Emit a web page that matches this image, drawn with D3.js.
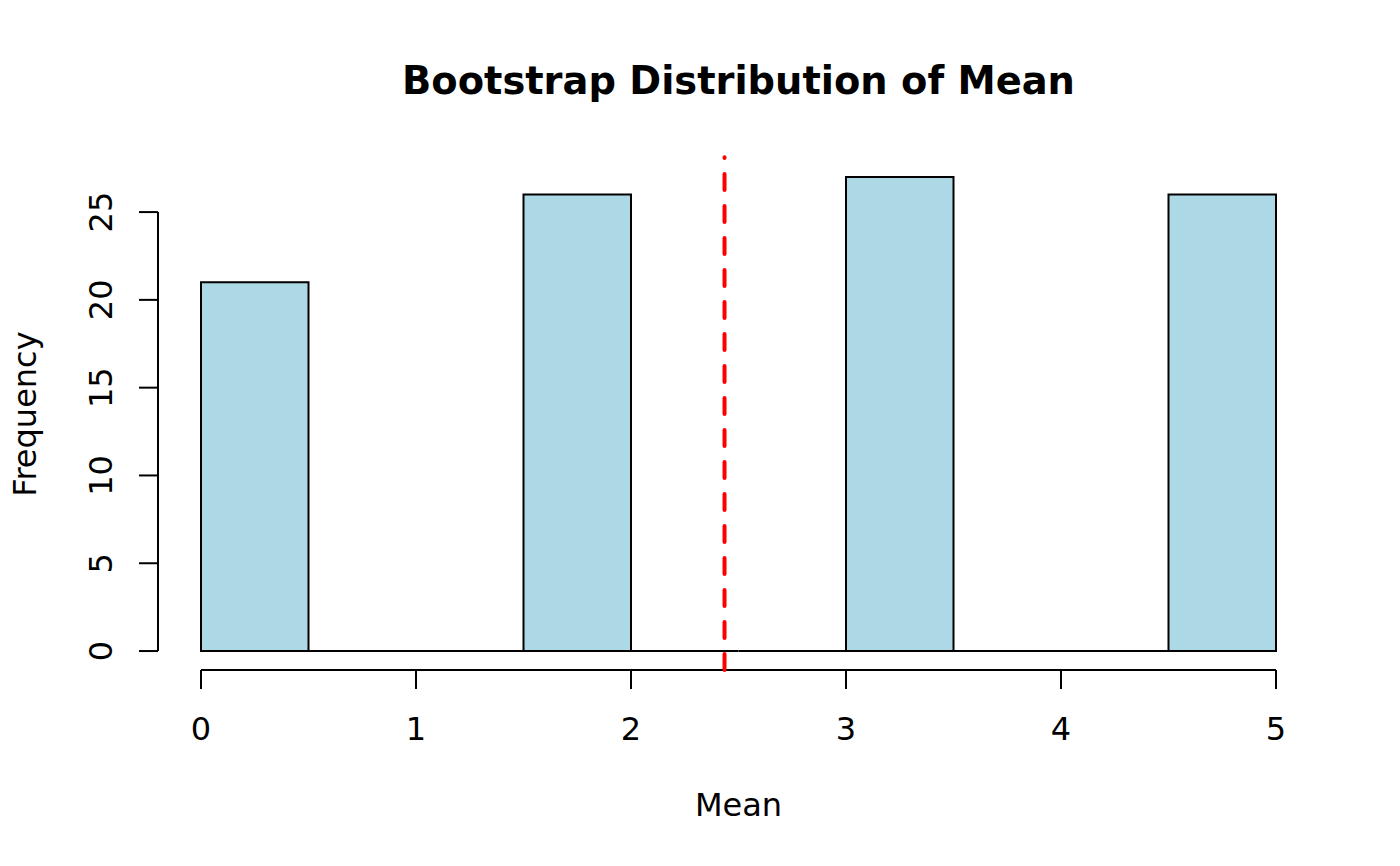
<!DOCTYPE html>
<html><head><meta charset="utf-8">
<script src="https://cdn.jsdelivr.net/npm/d3@7"></script>
<style>body{margin:0;background:#fff}</style>
</head><body>
<svg id="c" width="1400" height="866"></svg>
<script>
const binStarts = [0,0.5,1,1.5,2,2.5,3,3.5,4,4.5];
const binWidth = 0.5;
const counts = [21,0,0,26,0,0,27,0,0,26];
const meanValue = 2.435;
const xTicks = [0,1,2,3,4,5];
const yTicks = [0,5,10,15,20,25];
const title = "Bootstrap Distribution of Mean";
const xLabel = "Mean";
const yLabel = "Frequency";

const svg = d3.select("#c");
const font = "DejaVu Sans, Liberation Sans, sans-serif";
// plot region with R-like 4% padding
const x = d3.scaleLinear().domain([-0.2, 5.2]).range([201-0.2*215, 1276+0.2*215]);
const y = d3.scaleLinear().domain([-1.08, 28.08]).range([670, 158]);

svg.append("g").selectAll("path").data(binStarts).join("path")
  .attr("d", (d,i) => {
    const p = d3.path();
    const x0 = x(d), x1 = x(d+binWidth), y0 = y(0), y1 = y(counts[i]);
    p.moveTo(x0, y0); p.lineTo(x1, y0); p.lineTo(x1, y1); p.lineTo(x0, y1); p.closePath();
    return p.toString();
  })
  .attr("fill", "#ADD8E6").attr("stroke", "#000").attr("stroke-width", 2);

// x axis
const gx = svg.append("g").attr("transform", `translate(0,${y(-1.08)})`);
gx.append("line").attr("x1", x(0)).attr("x2", x(5)).attr("stroke","#000").attr("stroke-width",2);
gx.selectAll("line.t").data(xTicks).join("line").attr("class","t")
  .attr("x1", d=>x(d)).attr("x2", d=>x(d)).attr("y1",0).attr("y2",19).attr("stroke","#000").attr("stroke-width",2);
gx.selectAll("text").data(xTicks).join("text")
  .attr("x", d=>x(d)).attr("y", 70).attr("text-anchor","middle")
  .attr("font-family", font).attr("font-size", 32).text(d=>d);

// y axis
const ax = x(-0.2);
const gy = svg.append("g").attr("transform", `translate(${ax},0)`);
gy.append("line").attr("y1", y(0)).attr("y2", y(25)).attr("stroke","#000").attr("stroke-width",2);
gy.selectAll("line.t").data(yTicks).join("line").attr("class","t")
  .attr("y1", d=>y(d)).attr("y2", d=>y(d)).attr("x1",0).attr("x2",-19).attr("stroke","#000").attr("stroke-width",2);
gy.selectAll("text").data(yTicks).join("text")
  .attr("transform", d=>`translate(-46,${y(d)}) rotate(-90)`)
  .attr("text-anchor","middle").attr("font-family", font).attr("font-size", 32).text(d=>d);

// mean line
svg.append("line").attr("x1", x(meanValue)).attr("x2", x(meanValue))
  .attr("y1", y(-1.08)).attr("y2", y(28.08) - 0.8)
  .attr("stroke","#FF0000").attr("stroke-width",4).attr("stroke-dasharray","16,16").attr("stroke-linecap","round");

// titles
svg.append("text").attr("x", 738.5).attr("y", 94).attr("text-anchor","middle")
  .attr("font-family", font).attr("font-weight","bold").attr("font-size", 38.4).text(title);
svg.append("text").attr("x", 738.5).attr("y", 816).attr("text-anchor","middle")
  .attr("font-family", font).attr("font-size", 32).text(xLabel);
svg.append("text").attr("transform", `translate(36,${(158+670)/2}) rotate(-90)`).attr("text-anchor","middle")
  .attr("font-family", font).attr("font-size", 32).text(yLabel);
</script>
</body></html>
